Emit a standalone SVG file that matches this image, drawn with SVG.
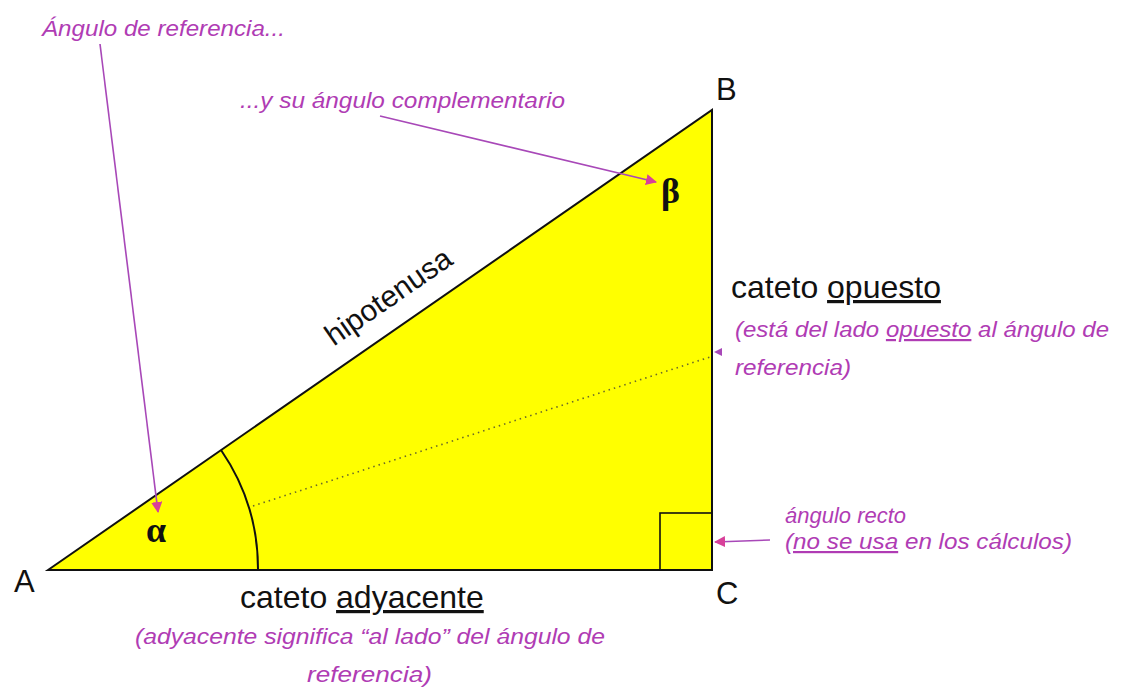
<svg xmlns="http://www.w3.org/2000/svg" width="1122" height="691" viewBox="0 0 1122 691">
<defs>
<style>
.lbl{font-family:"Liberation Sans",Arial,sans-serif;fill:#111;}
.hand{font-family:"Liberation Sans",Arial,sans-serif;font-style:italic;fill:#b03cb4;font-size:22px;}
.greek{font-family:"Liberation Serif","Times New Roman",serif;font-weight:bold;fill:#111;font-size:36px;}
.ptr{stroke:#a848b8;stroke-width:1.6;fill:none;marker-end:url(#ah);}
</style>
<marker id="ah" viewBox="0 0 10 10" refX="9" refY="5" markerWidth="7" markerHeight="7" markerUnits="strokeWidth" orient="auto">
<path d="M0,0 L10,5 L0,10 z" fill="#d8409a"/>
</marker>
</defs>
<rect width="1122" height="691" fill="#ffffff"/>

<g id="triangle">
<polygon points="48,570 712,110 712,570" fill="#ffff00" stroke="#111" stroke-width="2" stroke-linejoin="miter"/>
<rect x="660" y="513" width="52" height="57" fill="none" stroke="#111" stroke-width="1.6"/>
<path d="M221,450 A210,210 0 0 1 258,570" fill="none" stroke="#111" stroke-width="2"/>
<line x1="253" y1="506" x2="710" y2="357" stroke="#6a6a2a" stroke-width="1.6" stroke-dasharray="1.5 4"/>
</g>

<g id="vertex-A"><text class="lbl" x="14" y="592" font-size="31">A</text></g>
<g id="vertex-B"><text class="lbl" x="716" y="100" font-size="31">B</text></g>
<g id="vertex-C"><text class="lbl" x="716" y="604" font-size="31">C</text></g>

<g id="alpha"><text class="greek" x="146" y="542">α</text></g>
<g id="beta"><text class="greek" x="661" y="203">β</text></g>

<g id="hipotenusa"><text class="lbl" font-size="30" text-anchor="middle" transform="translate(394,305) rotate(-34.7)">hipotenusa</text></g>

<g id="cateto-opuesto">
<text class="lbl" x="731" y="298" font-size="32">cateto <tspan text-decoration="underline">opuesto</tspan></text>
<text class="hand" x="735" y="337" textLength="374" lengthAdjust="spacingAndGlyphs">(está del lado <tspan text-decoration="underline">opuesto</tspan> al ángulo de</text>
<text class="hand" x="735" y="375" textLength="116" lengthAdjust="spacingAndGlyphs">referencia)</text>
</g>

<g id="cateto-adyacente">
<text class="lbl" x="240" y="608" font-size="32">cateto <tspan text-decoration="underline">adyacente</tspan></text>
<text class="hand" x="135" y="644" textLength="470" lengthAdjust="spacingAndGlyphs">(adyacente significa “al lado” del ángulo de</text>
<text class="hand" x="307" y="682" textLength="125" lengthAdjust="spacingAndGlyphs">referencia)</text>
</g>

<g id="angulo-referencia">
<text class="hand" x="42" y="36" textLength="243" lengthAdjust="spacingAndGlyphs">Ángulo de referencia...</text>
</g>

<g id="angulo-complementario">
<text class="hand" x="240" y="108" textLength="325" lengthAdjust="spacingAndGlyphs">...y su ángulo complementario</text>
</g>

<g id="angulo-recto">
<text class="hand" x="785" y="523">ángulo recto</text>
<text class="hand" x="785" y="549" textLength="287" lengthAdjust="spacingAndGlyphs"><tspan text-decoration="underline">(no se usa</tspan> en los cálculos)</text>
</g>

<g id="connectors">
<line class="ptr" x1="100" y1="44" x2="158" y2="512"/>
<line class="ptr" x1="380" y1="116" x2="656" y2="182"/>
<line class="ptr" x1="770" y1="540" x2="715" y2="542"/>
<path d="M722,348 L714,352 L722,356 z" fill="#a848b8"/>
</g>
</svg>
